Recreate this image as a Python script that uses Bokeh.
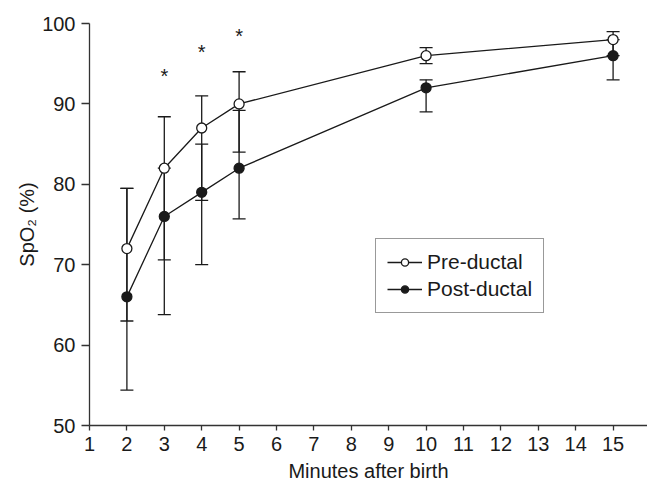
from bokeh.plotting import figure
from bokeh.models import ColumnDataSource, Whisker, TeeHead, Range1d, FixedTicker, Legend, LegendItem
from bokeh.core.properties import value
from bokeh.embed import file_html
from bokeh.resources import INLINE

# ---- data ----
minutes = [2, 3, 4, 5, 10, 15]
pre_ductal = [72, 82, 87, 90, 96, 98]
pre_upper = [79.5, 88.4, 91, 94, 97, 99]
pre_lower = [63, 70.6, 78, 84, 95, 96]
post_ductal = [66, 76, 79, 82, 92, 96]
post_upper = [79.5, 82, 85, 89.2, 93, 98]
post_lower = [54.4, 63.8, 70, 75.7, 89, 93]
sig_minutes = [3, 4, 5]
sig_y = [93.5, 96.4, 98.4]
x_ticks = list(range(1, 16))
y_ticks = [50, 60, 70, 80, 90, 100]

FONT = "Liberation Sans"
INK = "#1a1a1a"
FS = "20px"

p = figure(width=647, height=486, output_backend="svg", toolbar_location=None,
           x_range=Range1d(1, 15.92), y_range=Range1d(50, 100),
           min_border_left=89, min_border_right=0, min_border_top=23, min_border_bottom=61)
p.outline_line_color = None
p.grid.visible = False
p.background_fill_color = "white"

src_pre = ColumnDataSource(dict(x=minutes, y=pre_ductal, up=pre_upper, lo=pre_lower))
src_post = ColumnDataSource(dict(x=minutes, y=post_ductal, up=post_upper, lo=post_lower))

for src in (src_pre, src_post):
    w = Whisker(base="x", upper="up", lower="lo", source=src, level="underlay",
                line_color=INK, line_width=1.3,
                upper_head=TeeHead(size=13, line_color=INK, line_width=1.3),
                lower_head=TeeHead(size=13, line_color=INK, line_width=1.3))
    p.add_layout(w)

l_pre = p.line("x", "y", source=src_pre, line_color=INK, line_width=1.3)
s_pre = p.scatter("x", "y", source=src_pre, marker="circle", size=10,
                  fill_color="white", line_color=INK, line_width=1.3)
l_post = p.line("x", "y", source=src_post, line_color=INK, line_width=1.3)
s_post = p.scatter("x", "y", source=src_post, marker="circle", size=10,
                   fill_color=INK, line_color=INK, line_width=1.3)

p.text(x=sig_minutes, y=sig_y, text=["*"] * len(sig_minutes), text_align="center",
       text_baseline="middle", y_offset=0, text_font=value(FONT), text_font_size=FS,
       text_color=INK)

legend = Legend(items=[LegendItem(label="Pre-ductal", renderers=[l_pre, s_pre]),
                       LegendItem(label="Post-ductal", renderers=[l_post, s_post])],
                location=(286, 112), glyph_width=35, glyph_height=18, label_height=24,
                label_standoff=5, padding=11, spacing=3, margin=0,
                label_text_font=FONT, label_text_font_size="21px", label_text_color=INK,
                border_line_color="#333333", border_line_width=1.3,
                background_fill_alpha=1.0)
p.add_layout(legend, "center")

for ax in (p.xaxis[0], p.yaxis[0]):
    ax.axis_line_color = "#333333"
    ax.axis_line_width = 1.3
    ax.major_tick_line_color = "#333333"
    ax.major_tick_line_width = 1.3
    ax.major_tick_in = 0
    ax.minor_tick_line_color = None
    ax.major_label_text_font = FONT
    ax.major_label_text_font_size = FS
    ax.major_label_text_color = INK
    ax.axis_label_text_font = FONT
    ax.axis_label_text_font_size = FS
    ax.axis_label_text_font_style = "normal"
    ax.axis_label_text_color = INK

p.xaxis.ticker = FixedTicker(ticks=x_ticks)
p.yaxis.ticker = FixedTicker(ticks=y_ticks)
p.xaxis.major_tick_out = 5
p.yaxis.major_tick_out = 8
p.xaxis.major_label_standoff = 6
p.yaxis.major_label_standoff = 6
p.xaxis.axis_label = "Minutes after birth"
p.yaxis.axis_label = "SpO₂ (%)"
p.xaxis.axis_label_standoff = 6
p.yaxis.axis_label_standoff = 1

open("out.html", "w").write(file_html(p, INLINE))
